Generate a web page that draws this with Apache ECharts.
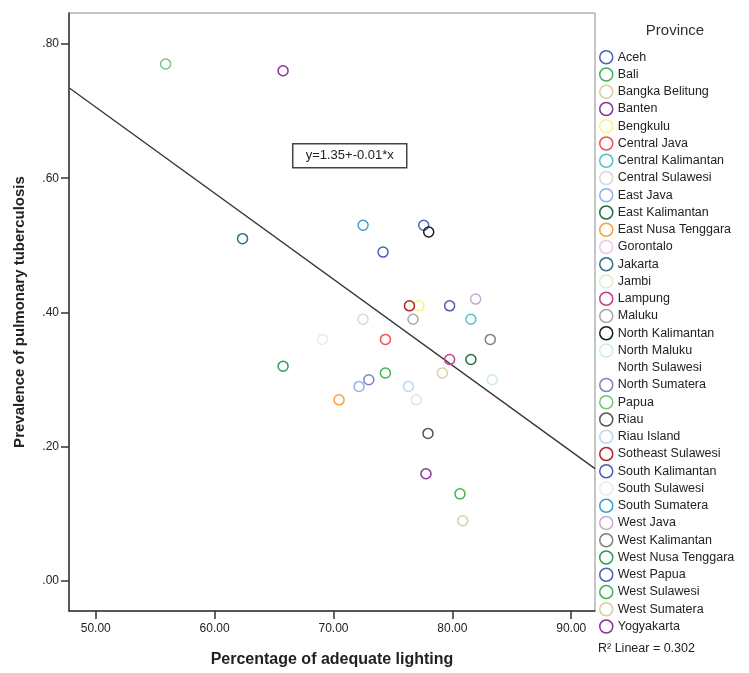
<!DOCTYPE html>
<html>
<head>
<meta charset="utf-8">
<script src="https://cdn.jsdelivr.net/npm/echarts@6/dist/echarts.min.js"></script>
<style>html,body{margin:0;padding:0;background:#fff;}#c{width:749px;height:673px;}</style>
</head>
<body>
<div id="c"></div>
<script>
const provinces = ["Aceh","Bali","Bangka Belitung","Banten","Bengkulu","Central Java","Central Kalimantan","Central Sulawesi","East Java","East Kalimantan","East Nusa Tenggara","Gorontalo","Jakarta","Jambi","Lampung","Maluku","North Kalimantan","North Maluku","North Sulawesi","North Sumatera","Papua","Riau","Riau Island","Sotheast Sulawesi","South Kalimantan","South Sulawesi","South Sumatera","West Java","West Kalimantan","West Nusa Tenggara","West Papua","West Sulawesi","West Sumatera","Yogyakarta"];
const lightingPct = [77.59,80.64,80.87,65.76,77.19,74.37,81.56,72.49,72.15,81.56,70.47,null,62.35,76.97,79.77,76.69,78.01,83.36,null,72.97,55.88,77.95,76.30,76.39,79.77,69.08,72.49,81.96,83.19,65.76,74.17,74.37,79.16,77.78];
const tbPrevalence = [0.53,0.13,0.09,0.76,0.41,0.36,0.39,0.39,0.29,0.33,0.27,null,0.51,0.27,0.33,0.39,0.52,0.30,null,0.30,0.77,0.22,0.29,0.41,0.41,0.36,0.53,0.42,0.36,0.32,0.49,0.31,0.31,0.16];
const provinceColors = ["#4a62b8","#3cb650","#d6d19c","#8a3396","#fbf47c","#ee5050","#4fc4c8","#d8d8d8","#8fb4e8","#1f6e43","#f7a23c","#e6cce6","#2e6f8c","#d8efd2","#c63d8b","#a8a8a8","#1a1a1a","#cbecf2","rgba(0,0,0,0)","#8480c0","#72c676","#555555","#b9d8f4","#b22525","#5058b8","#ebebeb","#3ba0cc","#caa8d8","#808080","#2d9a5a","#4a62b8","#3cb650","#d6d19c","#8a3396"];
const xTicks = [50,60,70,80,90];
const yTicks = [0,0.2,0.4,0.6,0.8];
const xRange = [47.75, 92.0];
const yRange = [-0.0444, 0.846];
const fitIntercept = 1.347;
const fitSlope = -0.01282;
const equationLabel = "y=1.35+-0.01*x";
const r2Label = "R\u00B2 Linear = 0.302";

const FONT = "'Liberation Sans', Arial, sans-serif";

const series = provinces.map((p, i) => ({
  type: 'scatter',
  name: p,
  data: lightingPct[i] == null ? [] : [[lightingPct[i], tbPrevalence[i]]],
  symbol: 'circle',
  symbolSize: 10,
  itemStyle: { color: 'rgba(255,255,255,0)', borderColor: provinceColors[i], borderWidth: 1.5, opacity: 1 },
  emphasis: { disabled: true },
  z: 3
}));
series.push({
  type: 'line',
  name: 'fit',
  data: xRange.map(x => [x, fitIntercept + fitSlope * x]),
  showSymbol: false,
  symbol: 'none',
  lineStyle: { color: '#333', width: 1.3 },
  silent: true,
  z: 2
});

const chart = echarts.init(document.getElementById('c'), null, { renderer: 'canvas' });
chart.setOption({
  animation: false,
  backgroundColor: '#fff',
  textStyle: { fontFamily: FONT },
  grid: { left: 69, right: 154, top: 13, bottom: 59, show: true, borderColor: '#8c8c8c', borderWidth: 1 },
  xAxis: {
    type: 'value', min: xRange[0], max: xRange[1],
    splitLine: { show: false },
    axisLine: { show: true, onZero: false, lineStyle: { color: '#333', width: 1.5 } },
    axisTick: { show: true, length: 8, lineStyle: { color: '#333', width: 1.5 }, customValues: xTicks },
    axisLabel: { customValues: xTicks, formatter: v => v.toFixed(2), color: '#222', fontSize: 12, margin: 12, fontFamily: FONT },
    name: 'Percentage of adequate lighting', nameLocation: 'middle', nameGap: 41,
    nameTextStyle: { fontSize: 16, fontWeight: 'bold', color: '#222', fontFamily: FONT }
  },
  yAxis: {
    type: 'value', min: yRange[0], max: yRange[1],
    splitLine: { show: false },
    axisLine: { show: true, onZero: false, lineStyle: { color: '#333', width: 1.5 } },
    axisTick: { show: true, length: 8, lineStyle: { color: '#333', width: 1.5 }, customValues: yTicks },
    axisLabel: { customValues: yTicks, formatter: v => v.toFixed(2).replace(/^0/, ''), color: '#222', fontSize: 12, margin: 10, fontFamily: FONT },
    name: 'Prevalence of pulmonary tuberculosis', nameLocation: 'middle', nameGap: 42, nameRotate: 90,
    nameTextStyle: { fontSize: 15, fontWeight: 'bold', color: '#222', fontFamily: FONT }
  },
  legend: {
    orient: 'vertical', left: 599, top: 50, padding: 0,
    itemWidth: 13, itemHeight: 13, itemGap: 2.75,
    selectedMode: false,
    textStyle: { fontSize: 12.5, color: '#222', fontFamily: FONT },
    data: provinces.map((p, i) => ({ name: p, icon: 'circle', itemStyle: { color: 'rgba(255,255,255,0)', borderColor: provinceColors[i], borderWidth: 1.5 } }))
  },
  graphic: [
    { type: 'text', x: 675, y: 31, style: { text: 'Province', font: '15px ' + FONT, fill: '#333', align: 'center', verticalAlign: 'middle' } },
    { type: 'text', x: 598, y: 649, style: { text: r2Label, font: '12.5px ' + FONT, fill: '#222', align: 'left', verticalAlign: 'middle' } },
    { type: 'group', left: 292, top: 143, children: [
      { type: 'rect', shape: { x: 0, y: 0, width: 114, height: 24 }, style: { fill: '#fff', stroke: '#444', lineWidth: 1.5 } },
      { type: 'text', x: 57, y: 12, style: { text: equationLabel, font: '13px ' + FONT, fill: '#222', align: 'center', verticalAlign: 'middle' } }
    ], z: 10 }
  ],
  series: series
});
</script>
</body>
</html>
